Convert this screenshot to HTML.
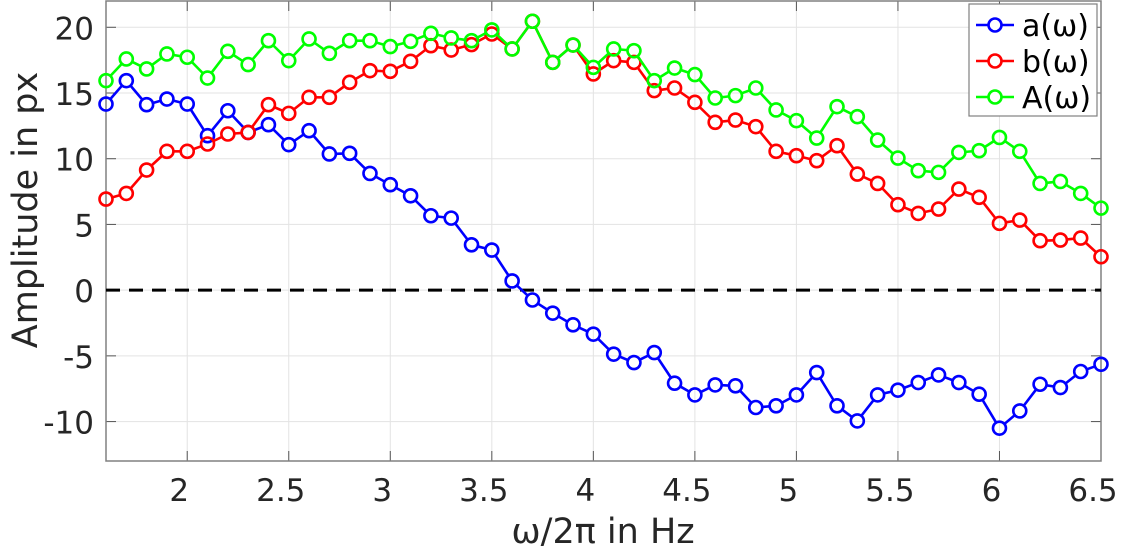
<!DOCTYPE html>
<html><head><meta charset="utf-8">
<style>
body{margin:0;background:#fff;}
svg{display:block;font-family:"DejaVu Sans","Liberation Sans",sans-serif;}
</style></head>
<body>
<svg id="chart" width="1122" height="549" viewBox="0 0 1122 549">
<g id="grid"></g>
<g id="axes"></g>
<g id="series"></g>
<g id="legend"></g>
</svg>
<script>
const freqStart = 1.6;
const freqStep = 0.1;
const aValues = [14.16,15.94,14.11,14.54,14.16,11.75,13.65,12.0,12.59,11.07,12.13,10.36,10.41,8.88,8.02,7.18,5.66,5.48,3.45,3.05,0.7,-0.75,-1.75,-2.64,-3.35,-4.87,-5.51,-4.75,-7.08,-7.97,-7.21,-7.28,-8.93,-8.8,-7.97,-6.27,-8.8,-9.95,-7.97,-7.61,-7.03,-6.45,-7.03,-7.92,-10.5,-9.19,-7.16,-7.41,-6.19,-5.64];
const bValues = [6.93,7.36,9.14,10.56,10.56,11.12,11.88,12.0,14.11,13.45,14.67,14.67,15.81,16.7,16.65,17.41,18.6,18.27,18.68,19.49,18.35,20.46,17.33,18.65,16.45,17.46,17.33,15.18,15.38,14.29,12.77,12.94,12.44,10.56,10.23,9.85,10.99,8.83,8.12,6.5,5.84,6.17,7.69,7.06,5.08,5.33,3.76,3.81,3.96,2.54];
const AValues = [15.94,17.59,16.83,17.97,17.72,16.14,18.17,17.16,18.98,17.46,19.11,18.02,18.98,18.98,18.53,18.93,19.54,19.19,18.98,19.8,18.35,20.46,17.33,18.65,16.95,18.35,18.22,15.94,16.9,16.4,14.62,14.8,15.38,13.71,12.89,11.57,13.96,13.2,11.42,10.05,9.09,8.96,10.48,10.61,11.62,10.56,8.12,8.27,7.36,6.24];
const xTicks = [2,2.5,3,3.5,4,4.5,5,5.5,6,6.5];
const xTickLabels = ["2","2.5","3","3.5","4","4.5","5","5.5","6","6.5"];
const yTicks = [-10,-5,0,5,10,15,20];
const yTickLabels = ["-10","-5","0","5","10","15","20"];
const seriesNames = ["a(ω)","b(ω)","A(ω)"];

const NS="http://www.w3.org/2000/svg";
const L=106,R=1101,T=1,B=461, XMIN=1.6,XMAX=6.5,YMIN=-13,YMAX=22;
const xs=v=>L+(v-XMIN)/(XMAX-XMIN)*(R-L);
const ys=v=>B-(v-YMIN)/(YMAX-YMIN)*(B-T);
function mk(tag,attrs,parent){const e=document.createElementNS(NS,tag);for(const k in attrs)e.setAttribute(k,attrs[k]);parent.appendChild(e);return e;}
const grid=document.getElementById('grid'),axes=document.getElementById('axes'),ser=document.getElementById('series'),leg=document.getElementById('legend');

xTicks.forEach((t,i)=>{
  const x=xs(t);
  const g=mk('line',{x1:x,x2:x,y1:T,y2:B,stroke:'#e3e3e3','stroke-width':1},grid);
  
  
  mk('line',{x1:x,x2:x,y1:B,y2:B-10,stroke:'#555','stroke-width':1},axes);
  mk('line',{x1:x,x2:x,y1:T,y2:T+10,stroke:'#555','stroke-width':1},axes);
  const tx=mk('text',{x:x-8,y:501,'text-anchor':'middle','font-size':31,fill:'#262626'},axes);
  tx.textContent=xTickLabels[i];
  
  
});
yTicks.forEach((t,i)=>{
  const y=ys(t);
  const g=mk('line',{x1:L,x2:R,y1:y,y2:y,stroke:'#e3e3e3','stroke-width':1},grid);
  
  
  mk('line',{x1:L,x2:L+10,y1:y,y2:y,stroke:'#555','stroke-width':1},axes);
  mk('line',{x1:R,x2:R-10,y1:y,y2:y,stroke:'#555','stroke-width':1},axes);
  const tx=mk('text',{x:94,y:y+12,'text-anchor':'end','font-size':31,fill:'#262626'},axes);
  tx.textContent=yTickLabels[i];
  
  
});
const frame=mk('rect',{x:L,y:T,width:R-L,height:B-T,fill:'none',stroke:'#808080','stroke-width':1.5},axes);


const zl=mk('line',{x1:L,x2:R,y1:ys(0),y2:ys(0),stroke:'#000','stroke-width':3,'stroke-dasharray':'14 9'},axes);


const xt=mk('text',{x:603,y:543,'text-anchor':'middle','font-size':35,fill:'#262626'},axes);
xt.textContent='ω/2π in Hz';


const yt=mk('text',{x:0,y:0,'text-anchor':'middle','font-size':35,fill:'#262626',transform:'translate(37,210) rotate(-90)'},axes);
yt.textContent='Amplitude in px';



const all=[aValues,bValues,AValues], cols=['#0000ff','#ff0000','#00ff00'], sn=['series-a','series-b','series-A'];
const RAD=6.5;
all.forEach((vals,si)=>{
  const g=mk('g',{},ser);
  
  
  const pts=vals.map((v,i)=>[xs(freqStart+i*freqStep),ys(v)]);
  for(let i=0;i<pts.length-1;i++){
    const [x1,y1]=pts[i],[x2,y2]=pts[i+1];const dx=x2-x1,dy=y2-y1,d=Math.hypot(dx,dy);
    if(d<2*RAD)continue;const ux=dx/d,uy=dy/d;
    mk('line',{x1:x1+ux*RAD,y1:y1+uy*RAD,x2:x2-ux*RAD,y2:y2-uy*RAD,stroke:cols[si],'stroke-width':2.6},g);
  }
  pts.forEach(p=>{
    const c=mk('circle',{cx:p[0],cy:p[1],r:RAD,fill:'none',stroke:cols[si],'stroke-width':2.6},g);
    
    
  });
});

const lb=mk('rect',{x:969,y:4,width:128,height:112,fill:'#fff',stroke:'#808080','stroke-width':1.2},leg);


seriesNames.forEach((n,i)=>{
  const y=25+i*36;
  const g=mk('g',{},leg);
  
  
  mk('line',{x1:976,x2:1014,y1:y,y2:y,stroke:cols[i],'stroke-width':2.6},g);
  mk('circle',{cx:995,cy:y,r:RAD,fill:'#fff',stroke:cols[i],'stroke-width':2.6},g);
  const t=mk('text',{x:1022,y:y+11,'font-size':30,fill:'#000'},g);
  t.textContent=n;
});
</script>
</body></html>
